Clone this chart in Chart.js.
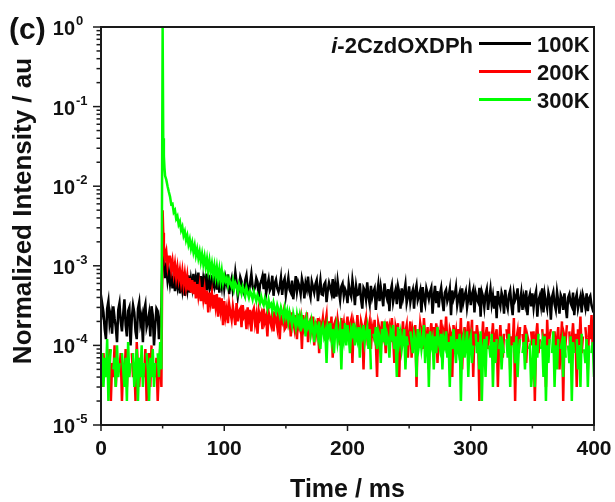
<!DOCTYPE html>
<html>
<head>
<meta charset="utf-8">
<script src="https://cdn.jsdelivr.net/npm/chart.js@4.4.1/dist/chart.umd.min.js"></script>
<style>
html,body{margin:0;padding:0;background:#fff;}
canvas{display:block;}
</style>
</head>
<body>
<canvas id="c" width="615" height="502"></canvas>
<script>
// ---------------- data ----------------
const sampleName = '-2CzdOXDPh';   // drawn after an italic "i"
const seriesLabels = ['100K', '200K', '300K'];
const xTickLabels = [0, 100, 200, 300, 400];
const xMinorTicks = [50, 150, 250, 350];
const yTickValues = [1, 1e-1, 1e-2, 1e-3, 1e-4, 1e-5];
const yTickExponents = ['0', '-1', '-2', '-3', '-4', '-5'];

const time = [
0,1,2,3,4,5,6,7,8,9,10,11,12,13,14,15,16,17,18,19,20,21,22,23,24,25,26,27,28,29,30,31,32,33,34,35,36,37,38,39,40,41,42,43,44,45,46,47,48,49,
50,50.5,51,51.5,52,53,54,55,
56,57,58,59,60,61,62,63,64,65,66,67,68,69,70,71,72,73,74,75,76,77,78,79,80,81,82,83,84,85,86,87,88,89,90,91,92,93,94,95,96,97,98,99,
100,101,102,103,104,105,106,107,108,109,110,111,112,113,114,115,116,117,118,119,120,121,122,123,124,125,126,127,128,129,
130,131,132,133,134,135,136,137,138,139,140,141,142,143,144,145,146,147,148,149,150,151,152,153,154,155,156,157,158,159,
160,161,162,163,164,165,166,167,168,169,170,171,172,173,174,175,176,177,178,179,180,181,182,183,184,185,186,187,188,189,
190,191,192,193,194,195,196,197,198,199,200,201,202,203,204,205,206,207,208,209,210,211,212,213,214,215,216,217,218,219,
220,221,222,223,224,225,226,227,228,229,230,231,232,233,234,235,236,237,238,239,240,241,242,243,244,245,246,247,248,249,
250,251,252,253,254,255,256,257,258,259,260,261,262,263,264,265,266,267,268,269,270,271,272,273,274,275,276,277,278,279,
280,281,282,283,284,285,286,287,288,289,290,291,292,293,294,295,296,297,298,299,300,301,302,303,304,305,306,307,308,309,
310,311,312,313,314,315,316,317,318,319,320,321,322,323,324,325,326,327,328,329,330,331,332,333,334,335,336,337,338,339,
340,341,342,343,344,345,346,347,348,349,350,351,352,353,354,355,356,357,358,359,360,361,362,363,364,365,366,367,368,369,
370,371,372,373,374,375,376,377,378,379,380,381,382,383,384,385,386,387,388,389,390,391,392,393,394,395,396,397,398,399,400
];

const intensity100K = [
2.1e-4,3.3e-4,2.6e-4,1.6e-4,1.2e-4,2.9e-4,3.6e-4,1.9e-4,2.4e-4,1.4e-4,
3.1e-4,2.2e-4,1.7e-4,1.1e-4,2.8e-4,3.4e-4,2.0e-4,1.5e-4,2.5e-4,3.8e-4,
1.8e-4,1.3e-4,2.7e-4,3.0e-4,1.0e-4,2.2e-4,3.2e-4,2.6e-4,1.5e-4,1.2e-4,
2.9e-4,3.5e-4,1.9e-4,2.3e-4,1.1e-4,2.8e-4,3.3e-4,1.7e-4,2.0e-4,2.5e-4,
1.3e-4,3.1e-4,2.4e-4,1.0e-4,1.8e-4,2.9e-4,2.7e-4,1.2e-4,2.1e-4,3.0e-4,
1.5e-3,1.2e-3,9.0e-4,1.1e-3,7.0e-4,9.5e-4,6.5e-4,8.5e-4,
6.0e-4,8.0e-4,5.2e-4,7.4e-4,4.8e-4,7.0e-4,5.5e-4,7.8e-4,4.5e-4,6.6e-4,
5.0e-4,7.2e-4,4.2e-4,6.4e-4,5.0e-4,7.6e-4,4.6e-4,6.8e-4,5.3e-4,7.9e-4,
4.9e-4,7.1e-4,5.6e-4,8.2e-4,5.1e-4,7.4e-4,4.7e-4,6.9e-4,5.4e-4,8.0e-4,
4.9e-4,7.3e-4,5.5e-4,7.7e-4,4.8e-4,7.0e-4,5.7e-4,8.1e-4,5.0e-4,7.5e-4,
4.6e-4,6.9e-4,5.4e-4,7.8e-4,
5.2e-4,7.1e-4,6.0e-4,7.8e-4,4.4e-4,5.9e-4,6.9e-4,4.8e-4,5.6e-4,8.3e-4,
6.2e-4,4.1e-4,5.3e-4,7.2e-4,6.4e-4,5.0e-4,4.5e-4,6.6e-4,7.6e-4,5.1e-4,
4.6e-4,6.1e-4,7.9e-4,5.5e-4,4.9e-4,5.4e-4,7.0e-4,6.3e-4,3.9e-4,5.8e-4,
6.4e-4,7.4e-4,5.1e-4,8.0e-4,4.5e-4,5.7e-4,6.8e-4,4.9e-4,5.3e-4,7.5e-4,
4.2e-4,6.0e-4,6.7e-4,5.2e-4,4.7e-4,5.5e-4,7.1e-4,4.3e-4,6.2e-4,6.9e-4,
4.3e-4,5.6e-4,7.1e-4,5.0e-4,4.6e-4,6.5e-4,3.8e-4,5.2e-4,7.4e-4,4.8e-4,
6.2e-4,5.5e-4,4.4e-4,6.9e-4,5.8e-4,3.9e-4,6.0e-4,5.1e-4,7.3e-4,4.7e-4,
4.0e-4,6.3e-4,5.4e-4,4.6e-4,5.9e-4,6.6e-4,3.6e-4,5.0e-4,6.6e-4,4.4e-4,
4.3e-4,5.8e-4,6.2e-4,3.5e-4,4.9e-4,6.1e-4,5.3e-4,4.5e-4,6.8e-4,3.9e-4,
5.7e-4,4.1e-4,6.4e-4,4.8e-4,3.7e-4,5.5e-4,6.0e-4,4.2e-4,5.1e-4,4.6e-4,
3.4e-4,5.9e-4,4.6e-4,4.1e-4,6.6e-4,5.0e-4,3.2e-4,5.5e-4,4.3e-4,4.4e-4,
6.0e-4,3.8e-4,2.9e-4,5.3e-4,4.9e-4,3.8e-4,6.2e-4,4.1e-4,3.3e-4,5.6e-4,
4.0e-4,4.7e-4,5.2e-4,2.8e-4,4.4e-4,5.8e-4,3.6e-4,5.4e-4,4.2e-4,3.1e-4,
6.0e-4,4.5e-4,3.9e-4,5.1e-4,2.7e-4,4.8e-4,5.7e-4,3.5e-4,4.3e-4,5.0e-4,
3.3e-4,5.5e-4,4.6e-4,2.9e-4,5.2e-4,3.9e-4,4.7e-4,5.9e-4,3.4e-4,4.1e-4,
5.5e-4,3.5e-4,4.4e-4,5.0e-4,2.9e-4,4.8e-4,5.7e-4,3.7e-4,4.2e-4,4.9e-4,
2.6e-4,5.4e-4,3.9e-4,3.3e-4,5.2e-4,4.5e-4,3.8e-4,4.7e-4,5.3e-4,2.5e-4,
4.1e-4,5.6e-4,3.4e-4,4.8e-4,3.0e-4,4.4e-4,5.3e-4,3.6e-4,2.7e-4,4.6e-4,
5.0e-4,3.6e-4,4.1e-4,5.1e-4,2.4e-4,4.9e-4,3.8e-4,4.3e-4,5.4e-4,3.2e-4,
4.0e-4,4.6e-4,2.6e-4,5.2e-4,3.5e-4,4.2e-4,4.8e-4,3.0e-4,3.9e-4,5.1e-4,
3.2e-4,4.4e-4,5.0e-4,2.6e-4,4.5e-4,3.8e-4,3.5e-4,5.3e-4,2.3e-4,4.7e-4,
4.1e-4,3.0e-4,4.4e-4,5.1e-4,2.8e-4,3.9e-4,5.1e-4,3.3e-4,4.2e-4,2.9e-4,
4.2e-4,2.2e-4,4.8e-4,3.6e-4,3.1e-4,4.6e-4,4.0e-4,2.5e-4,5.0e-4,3.4e-4,
2.9e-4,4.3e-4,4.9e-4,3.2e-4,2.4e-4,4.5e-4,3.7e-4,4.1e-4,5.2e-4,2.6e-4,
3.6e-4,4.6e-4,2.8e-4,4.0e-4,3.3e-4,4.9e-4,2.4e-4,3.8e-4,4.4e-4,3.1e-4,
4.5e-4,3.0e-4,4.1e-4,4.8e-4,2.3e-4,3.7e-4,4.2e-4,3.2e-4,5.2e-4,2.6e-4,
4.4e-4,3.5e-4,2.9e-4,4.6e-4,3.9e-4,2.1e-4,4.1e-4,4.7e-4,3.3e-4,2.8e-4,
4.7e-4,3.6e-4,2.5e-4,4.3e-4,3.9e-4,2.8e-4,4.5e-4,3.1e-4,2.2e-4,4.0e-4,
4.4e-4,3.4e-4,3.1e-4,4.6e-4,2.4e-4,3.8e-4,4.4e-4,2.9e-4,3.5e-4,4.1e-4,
2.6e-4,4.3e-4,3.7e-4,3.0e-4,4.5e-4,2.7e-4,3.9e-4,4.2e-4,3.2e-4,2.8e-4,
3.0e-4
];

const intensity200K = [
6e-5,3e-5,8e-5,4e-5,0,7e-5,5e-5,9e-5,2e-5,6e-5,
4e-5,1.0e-4,3e-5,7e-5,0,5e-5,8e-5,2e-5,6e-5,4e-5,
9e-5,3e-5,7e-5,5e-5,0,8e-5,4e-5,6e-5,2e-5,1.1e-4,
5e-5,3e-5,7e-5,0,6e-5,4e-5,9e-5,2e-5,5e-5,8e-5,
3e-5,1.0e-4,0,6e-5,4e-5,7e-5,2e-5,5e-5,9e-5,3e-5,
5.0e-3,2.6e-3,1.8e-3,1.5e-3,1.25e-3,1.5e-3,1.0e-3,1.3e-3,
1.3e-3,9.0e-4,1.15e-3,8.0e-4,1.05e-3,7.2e-4,9.6e-4,6.8e-4,8.8e-4,6.2e-4,
8.5e-4,5.8e-4,7.9e-4,5.5e-4,7.4e-4,4.9e-4,7.0e-4,4.6e-4,6.6e-4,4.4e-4,
6.3e-4,3.9e-4,5.9e-4,4.2e-4,5.6e-4,3.6e-4,5.4e-4,3.8e-4,5.1e-4,3.3e-4,
4.9e-4,2.6e-4,4.6e-4,3.4e-4,4.5e-4,2.9e-4,4.3e-4,3.1e-4,4.4e-4,2.3e-4,
4.0e-4,2.8e-4,3.9e-4,1.8e-4,
3.6e-4,2.3e-4,2.9e-4,1.9e-4,3.3e-4,2.6e-4,2.1e-4,3.1e-4,2.4e-4,1.8e-4,
3.4e-4,2.0e-4,2.7e-4,2.9e-4,1.7e-4,3.2e-4,2.3e-4,2.5e-4,1.6e-4,3.0e-4,
2.1e-4,2.8e-4,1.5e-4,2.6e-4,2.9e-4,1.9e-4,2.4e-4,1.4e-4,2.7e-4,2.2e-4,
2.5e-4,1.6e-4,2.9e-4,2.0e-4,2.3e-4,1.3e-4,2.6e-4,2.1e-4,1.8e-4,2.7e-4,
1.5e-4,2.4e-4,2.2e-4,1.7e-4,2.8e-4,1.2e-4,2.3e-4,2.0e-4,2.5e-4,1.6e-4,
1.7e-4,2.7e-4,1.9e-4,2.2e-4,1.3e-4,2.6e-4,2.0e-4,1.6e-4,2.4e-4,1.2e-4,
2.5e-4,1.8e-4,2.2e-4,9e-5,2.4e-4,1.7e-4,2.0e-4,2.6e-4,1.1e-4,1.9e-4,
2.1e-4,1.6e-4,2.3e-4,1.0e-4,2.0e-4,1.5e-4,2.2e-4,8e-5,1.9e-4,1.7e-4,
2.2e-4,1.4e-4,1.9e-4,2.4e-4,1.2e-4,2.0e-4,1.5e-4,2.3e-4,7e-5,1.8e-4,
2.0e-4,1.3e-4,2.1e-4,1.6e-4,1.0e-4,2.2e-4,1.5e-4,1.9e-4,1.2e-4,1.7e-4,
2.3e-4,1.4e-4,1.8e-4,2.1e-4,6e-5,1.9e-4,1.6e-4,1.2e-4,2.4e-4,1.5e-4,
1.1e-4,2.0e-4,1.7e-4,5e-5,1.8e-4,2.2e-4,1.3e-4,1.6e-4,2.0e-4,9e-5,
1.7e-4,1.4e-4,2.1e-4,1.1e-4,4e-5,1.9e-4,1.6e-4,1.2e-4,2.0e-4,1.3e-4,
1.6e-4,8e-5,2.0e-4,1.4e-4,1.7e-4,1.1e-4,2.2e-4,1.3e-4,6e-5,1.7e-4,
1.4e-4,1.9e-4,4e-5,1.6e-4,1.2e-4,2.0e-4,1.0e-4,1.5e-4,1.8e-4,7e-5,
1.4e-4,2.0e-4,7e-5,1.5e-4,1.2e-4,1.8e-4,3e-5,1.6e-4,1.1e-4,1.9e-4,
1.5e-4,9e-5,2.2e-4,1.3e-4,1.0e-4,1.7e-4,5e-5,1.4e-4,1.9e-4,1.1e-4,
1.7e-4,1.0e-4,1.9e-4,6e-5,1.4e-4,1.2e-4,2.1e-4,8e-5,1.5e-4,1.3e-4,
2.3e-4,1.1e-4,9e-5,1.6e-4,1.4e-4,4e-5,1.8e-4,1.2e-4,1.5e-4,8e-5,
1.6e-4,1.0e-4,2.2e-4,5e-5,1.3e-4,1.7e-4,9e-5,1.4e-4,2.0e-4,1.1e-4,
1.2e-4,2.1e-4,4e-5,1.5e-4,1.0e-4,1.8e-4,1.3e-4,2e-5,1.4e-4,1.1e-4,
2.0e-4,6e-5,1.3e-4,1.7e-4,9e-5,1.5e-4,0,1.2e-4,1.9e-4,8e-5,
1.3e-4,1.6e-4,3e-5,1.1e-4,1.8e-4,1.0e-4,7e-5,1.4e-4,0,1.6e-4,
1.1e-4,1.9e-4,5e-5,1.3e-4,1.0e-4,2.2e-4,2e-5,1.2e-4,1.5e-4,8e-5,
1.7e-4,0,1.4e-4,1.0e-4,1.8e-4,6e-5,1.3e-4,1.1e-4,0,1.5e-4,
1.0e-4,1.5e-4,2e-5,1.3e-4,1.9e-4,8e-5,1.2e-4,0,1.6e-4,1.0e-4,
1.4e-4,3e-5,2.1e-4,9e-5,1.3e-4,1.6e-4,0,1.1e-4,1.5e-4,7e-5,
1.2e-4,1.7e-4,5e-5,1.0e-4,2.0e-4,2e-5,1.3e-4,1.1e-4,1.8e-4,0,
1.5e-4,6e-5,1.2e-4,1.9e-4,9e-5,1.4e-4,3e-5,1.6e-4,1.0e-4,2.3e-4,
8e-5,1.3e-4,0,1.7e-4,1.1e-4,5e-5,1.8e-4,1.2e-4,2.4e-4,9e-5,
1.6e-4
];

const intensity300K = [
5e-5,8e-5,3e-5,7e-5,4e-5,1.2e-4,2e-5,6e-5,9e-5,0,
5e-5,7e-5,3e-5,1.0e-4,4e-5,6e-5,0,8e-5,5e-5,3e-5,
7e-5,2e-5,1.1e-4,4e-5,6e-5,0,8e-5,3e-5,5e-5,9e-5,
2e-5,7e-5,4e-5,1.0e-4,3e-5,6e-5,0,8e-5,5e-5,2e-5,
7e-5,4e-5,9e-5,3e-5,6e-5,0,8e-5,4e-5,1.1e-4,5e-5,
1.0,4.0e-2,2.4e-2,1.7e-2,1.35e-2,1.2e-2,1.0e-2,8.5e-3,
7.4e-3,5.9e-3,6.0e-3,4.7e-3,5.0e-3,3.9e-3,4.2e-3,3.3e-3,3.6e-3,2.8e-3,
3.1e-3,2.4e-3,2.7e-3,2.1e-3,2.4e-3,1.85e-3,2.15e-3,1.65e-3,1.95e-3,1.5e-3,
1.8e-3,1.35e-3,1.62e-3,1.25e-3,1.5e-3,1.12e-3,1.4e-3,1.05e-3,1.3e-3,9.6e-4,
1.22e-3,8.8e-4,1.15e-3,8.4e-4,1.06e-3,7.8e-4,1.0e-3,7.3e-4,9.6e-4,6.9e-4,
9.0e-4,6.5e-4,8.6e-4,6.2e-4,
7.6e-4,6.4e-4,7.0e-4,5.7e-4,6.8e-4,6.0e-4,5.4e-4,6.5e-4,5.1e-4,6.1e-4,
5.6e-4,4.7e-4,5.9e-4,5.2e-4,4.5e-4,5.5e-4,4.9e-4,4.2e-4,5.3e-4,4.6e-4,
4.0e-4,4.8e-4,4.4e-4,3.8e-4,4.7e-4,4.1e-4,3.6e-4,4.3e-4,3.9e-4,3.4e-4,
4.1e-4,3.5e-4,3.2e-4,3.9e-4,3.4e-4,2.9e-4,3.7e-4,3.1e-4,3.3e-4,2.7e-4,
3.4e-4,2.9e-4,2.6e-4,3.2e-4,2.8e-4,2.4e-4,3.0e-4,2.6e-4,2.2e-4,2.9e-4,
2.3e-4,2.7e-4,2.0e-4,2.6e-4,2.2e-4,1.8e-4,2.5e-4,2.1e-4,1.7e-4,2.4e-4,
1.9e-4,2.3e-4,1.5e-4,2.2e-4,1.8e-4,2.0e-4,1.3e-4,2.1e-4,1.7e-4,1.9e-4,
1.4e-4,2.0e-4,1.6e-4,1.1e-4,1.9e-4,1.7e-4,1.3e-4,2.0e-4,9e-5,1.6e-4,
1.8e-4,1.3e-4,1.5e-4,6e-5,1.7e-4,1.4e-4,1.9e-4,1.2e-4,1.6e-4,8e-5,
1.5e-4,1.8e-4,1.1e-4,1.4e-4,1.7e-4,5e-5,1.6e-4,1.2e-4,1.9e-4,1.0e-4,
1.8e-4,1.3e-4,8e-5,1.6e-4,1.4e-4,1.9e-4,1.0e-4,1.5e-4,1.2e-4,1.7e-4,
7e-5,1.5e-4,1.3e-4,1.8e-4,1.1e-4,1.4e-4,1.7e-4,9e-5,1.6e-4,5e-5,
0,1.4e-4,1.2e-4,1.7e-4,9e-5,1.5e-4,1.3e-4,6e-5,1.6e-4,1.1e-4,
2.0e-4,1.0e-4,1.4e-4,1.2e-4,7e-5,1.5e-4,1.3e-4,1.8e-4,9e-5,1.3e-4,
4e-5,1.7e-4,1.1e-4,1.4e-4,9e-5,1.2e-4,1.6e-4,5e-5,1.3e-4,1.0e-4,
0,1.5e-4,1.1e-4,8e-5,1.4e-4,1.2e-4,4e-5,1.6e-4,1.0e-4,1.3e-4,
9e-5,1.2e-4,1.8e-4,6e-5,1.1e-4,1.4e-4,3e-5,1.5e-4,1.0e-4,1.2e-4,
5e-5,1.3e-4,8e-5,1.7e-4,1.1e-4,9e-5,1.4e-4,5e-5,1.2e-4,1.0e-4,
1.5e-4,7e-5,1.1e-4,3e-5,1.3e-4,9e-5,1.6e-4,1.0e-4,6e-5,1.2e-4,
9e-5,1.4e-4,2e-5,1.1e-4,1.3e-4,7e-5,1.0e-4,1.5e-4,4e-5,1.1e-4,
1.3e-4,6e-5,1.0e-4,0,1.4e-4,8e-5,1.1e-4,5e-5,1.5e-4,2e-5,
9e-5,1.2e-4,4e-5,1.3e-4,0,1.0e-4,7e-5,1.4e-4,3e-5,1.1e-4,
6e-5,1.2e-4,0,9e-5,1.3e-4,5e-5,1.0e-4,8e-5,0,1.2e-4,
7e-5,1.4e-4,3e-5,1.0e-4,0,1.1e-4,6e-5,1.3e-4,4e-5,9e-5,
1.2e-4,0,8e-5,1.1e-4,5e-5,1.4e-4,0,9e-5,1.0e-4,3e-5,
5e-5,1.2e-4,3e-5,1.0e-4,7e-5,1.4e-4,0,9e-5,1.1e-4,4e-5,
1.3e-4,2e-5,1.0e-4,6e-5,1.2e-4,0,8e-5,1.5e-4,3e-5,1.0e-4,
5e-5,1.2e-4,0,9e-5,1.1e-4,4e-5,1.3e-4,7e-5,0,1.0e-4,
6e-5,1.3e-4,2e-5,1.1e-4,8e-5,0,1.2e-4,5e-5,1.0e-4,3e-5,
1.4e-4,0,9e-5,6e-5,1.2e-4,3e-5,1.0e-4,0,8e-5,1.1e-4,
4e-5
];

const seriesValues = [intensity100K, intensity200K, intensity300K];
const seriesColors = ['#000000', '#ff0000', '#00ff00'];
const drawOrder = [3, 2, 1]; // green on top, black at the back

// ---------------- drawing ----------------
const FONT = '"Liberation Sans", Arial, Helvetica, sans-serif';

const decorations = {
  id: 'decorations',
  afterDraw(chart) {
    const ctx = chart.ctx;
    const a = chart.chartArea;
    const xs = chart.scales.x, ys = chart.scales.y;
    ctx.save();
    const seg = (x1, y1, x2, y2) => { ctx.beginPath(); ctx.moveTo(x1, y1); ctx.lineTo(x2, y2); ctx.stroke(); };

    // ticks
    ctx.strokeStyle = '#1a1a1a';
    ctx.lineWidth = 1.5;
    xTickLabels.forEach(v => { const p = xs.getPixelForValue(v); seg(p, a.bottom, p, a.bottom + 6); });
    xMinorTicks.forEach(v => { const p = xs.getPixelForValue(v); seg(p, a.bottom, p, a.bottom + 3.5); });
    yTickValues.forEach((v, i) => {
      const p = ys.getPixelForValue(v);
      seg(a.left - 8, p, a.left, p);
      if (i > 0) {
        for (let m = 2; m <= 9; m++) {
          const q = ys.getPixelForValue(v * m);
          seg(a.left - 4.5, q, a.left, q);
        }
      }
    });

    // frame
    ctx.lineWidth = 2;
    ctx.strokeStyle = '#1a1a1a';
    ctx.strokeRect(a.left, a.top, a.right - a.left, a.bottom - a.top);

    ctx.fillStyle = '#111';
    // x tick labels
    ctx.font = 'bold 21px ' + FONT;
    ctx.textAlign = 'center';
    ctx.textBaseline = 'alphabetic';
    xTickLabels.forEach(v => ctx.fillText(String(v), xs.getPixelForValue(v), a.bottom + 30));

    // y tick labels 10^n
    yTickValues.forEach((v, i) => {
      const p = ys.getPixelForValue(v);
      ctx.font = 'bold 20px ' + FONT;
      ctx.textAlign = 'right';
      ctx.fillText('10', 75, p + 8);
      ctx.font = 'bold 13px ' + FONT;
      ctx.textAlign = 'left';
      ctx.fillText(yTickExponents[i], 76, p - 2);
    });

    // axis titles
    ctx.font = 'bold 25px ' + FONT;
    ctx.textAlign = 'center';
    ctx.fillText('Time / ms', (a.left + a.right) / 2, 497);
    ctx.save();
    ctx.translate(31, 211);
    ctx.rotate(-Math.PI / 2);
    ctx.font = 'bold 26px ' + FONT;
    ctx.fillText('Normalized Intensity / au', 0, 0);
    ctx.restore();

    // panel label
    ctx.font = 'bold 30px ' + FONT;
    ctx.textAlign = 'left';
    ctx.fillText('(c)', 9, 39);

    // legend
    const ds = chart.data.datasets;
    ds.forEach((d, i) => {
      const base = 52 + i * 28;
      ctx.strokeStyle = d.borderColor;
      ctx.lineWidth = 3;
      seg(479, base - 8.5, 531, base - 8.5);
      ctx.font = 'bold 22px ' + FONT;
      ctx.textAlign = 'left';
      ctx.fillStyle = '#111';
      ctx.fillText(d.label, 537, base);
    });
    ctx.font = 'bold 22px ' + FONT;
    ctx.textAlign = 'right';
    const nameRight = 473;
    ctx.fillText(sampleName, nameRight, 53);
    const w = ctx.measureText(sampleName).width;
    ctx.font = 'italic bold 22px ' + FONT;
    ctx.fillText('i', nameRight - w, 53);

    ctx.restore();
  }
};

const datasets = seriesLabels.map((lab, k) => ({
  label: lab,
  data: time.map((t, i) => ({ x: t, y: seriesValues[k][i] })),
  borderColor: seriesColors[k],
  backgroundColor: seriesColors[k],
  borderWidth: 2.5,
  pointRadius: 0,
  tension: 0,
  fill: false,
  order: drawOrder[k]
}));

new Chart(document.getElementById('c'), {
  type: 'line',
  data: { datasets },
  options: {
    responsive: false,
    devicePixelRatio: 1,
    animation: false,
    events: [],
    layout: { padding: { left: 0, right: 21, top: 27, bottom: 0 } },
    plugins: { legend: { display: false }, tooltip: { enabled: false }, title: { display: false } },
    scales: {
      x: {
        type: 'linear', min: 0, max: 400,
        grid: { display: false }, border: { display: false },
        ticks: { display: false },
        afterFit: s => { s.height = 77; }
      },
      y: {
        type: 'logarithmic', min: 1e-5, max: 1,
        grid: { display: false }, border: { display: false },
        ticks: { display: false },
        afterFit: s => { s.width = 101; }
      }
    }
  },
  plugins: [decorations]
});
</script>
</body>
</html>
